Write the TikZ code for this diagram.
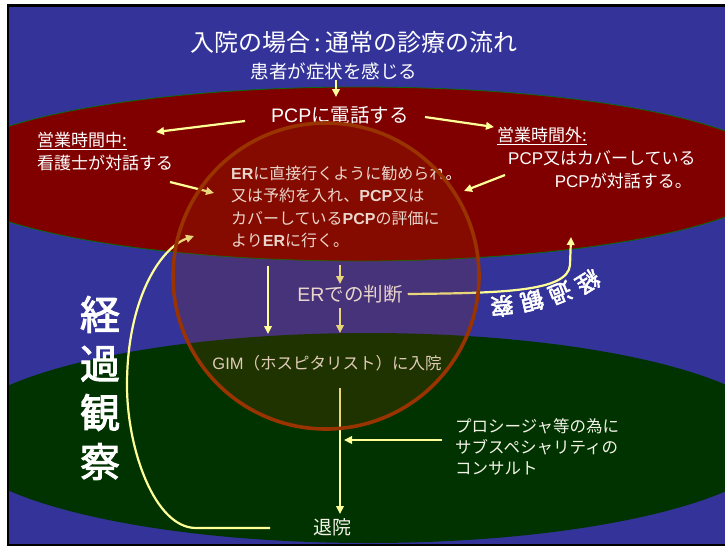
\documentclass[tikz,border=0pt]{standalone}
\usepackage{fontspec}
\setmainfont{Noto Sans CJK JP}
\newfontfamily\lat{Liberation Sans}
\newfontfamily\jpbf[AutoFakeBold=2.5]{Noto Sans CJK JP}
\usetikzlibrary{arrows.meta}
\definecolor{bgblue}{HTML}{333399}
\definecolor{ellred}{HTML}{800000}
\definecolor{ellgreen}{HTML}{003300}
\definecolor{edgegreen}{HTML}{0B6B0B}
\definecolor{brown}{HTML}{993300}
\definecolor{ayellow}{HTML}{FFFF99}
\definecolor{txtw}{HTML}{FFFFFF}
\definecolor{txtc}{HTML}{F2F2E6}
\tikzset{
  txt/.style={text=txtw, inner sep=0pt, font=\fontsize{17}{20}\selectfont},
  lefttxt/.style={txt, anchor=west, align=left},
  arr/.style={draw=ayellow, line width=2.2pt, -{Triangle[length=8pt,width=7.5pt]}},
  curvetxt/.style={text=white, inner sep=0pt, font=\jpbf\bfseries\fontsize{23}{23}\selectfont}
}
\begin{document}
\begin{tikzpicture}[x=1pt,y=-1pt]
\useasboundingbox (0,0) rectangle (725,547);
\fill[white] (0,0) rectangle (725,547);
\fill[black] (7,4) rectangle (727,546);
\fill[bgblue] (9,7) rectangle (727,544);
\begin{scope}
  \clip (9,7) rectangle (725,544);
  \filldraw[fill=ellred, draw=edgegreen, line width=0.8pt] (360,174) ellipse [x radius=420, y radius=87];
  \fill[ellgreen] (368,438) ellipse [x radius=415, y radius=105];
\end{scope}

% texts
\node[txt, font=\fontsize{24}{26}\selectfont] (title) at (354,42) {入院の場合\,:\,通常の診療の流れ};
\node[txt, font=\fontsize{18.5}{20}\selectfont] (patient) at (334,71) {患者が症状を感じる};
\node[txt, font=\fontsize{19.5}{22}\selectfont] (pcp) at (340,115) {{\lat PCP}に電話する};
\node[lefttxt] (inhours) at (37,141) {\underline{営業時間中:}};
\node[lefttxt] (nurse) at (37,163) {看護士が対話する};
\node[lefttxt] (outhours) at (497,136) {\underline{営業時間外:}};
\node[lefttxt] (pcpcov1) at (508,158) {{\lat PCP}又はカバーしている};
\node[txt, anchor=east] (pcpcov2) at (692,181) {{\lat PCP}が対話する。};

\node[lefttxt, font=\fontsize{16}{22.2}\selectfont, anchor=north west] (advice) at (231,166) {{\lat\bfseries ER}に直接行くように勧められ。\\又は予約を入れ、{\lat\bfseries PCP}又は\\カバーしている{\lat\bfseries PCP}の評価に\\より{\lat\bfseries ER}に行く。};
\node[txt, font=\fontsize{19.5}{22}\selectfont] (erjudge) at (350,294) {{\lat ER}での判断};
\node[txt, text=txtc, font=\fontsize{16.5}{20}\selectfont] (gim) at (327,363) {{\lat GIM}（ホスピタリスト）に入院};
\node[txt, text=txtc, font=\fontsize{19}{22}\selectfont] (discharge) at (332,527) {退院};
\node[lefttxt, text=txtc, font=\fontsize{16.5}{21.2}\selectfont, anchor=north west] (consult) at (455,418) {プロシージャ等の為に\\サブスペシャリティの\\コンサルト};

\node[txt, font=\jpbf\bfseries\fontsize{40}{49}\selectfont, align=center] (watch) at (100,388) {経\\過\\観\\察};

% curved text
\node[curvetxt, rotate=212] (w1) at (588,282) {経};
\node[curvetxt, rotate=202] (w2) at (560,293) {過};
\node[curvetxt, rotate=193] (w3) at (532,301) {観};
\node[curvetxt, rotate=185] (w4) at (502,306) {察};

% coordinates
\coordinate (a1s) at (336,80);  \coordinate (a1e) at (336,97);
\coordinate (a2s) at (245,121); \coordinate (a2e) at (156,132);
\coordinate (a3s) at (425,117); \coordinate (a3e) at (494,127);
\coordinate (a4s) at (170,182); \coordinate (a4e) at (214,193);
\coordinate (a5s) at (505,175); \coordinate (a5e) at (464,191);
\coordinate (a6s) at (340,265); \coordinate (a6e) at (340,284);
\coordinate (a7s) at (340,308); \coordinate (a7e) at (340,333);
\coordinate (a9s) at (340,388); \coordinate (a9e) at (340,514);
\coordinate (a10s) at (442,440); \coordinate (a10e) at (344,440);
\coordinate (a11s) at (270,528); \coordinate (a11e) at (194,236);
\coordinate (a12e) at (571,237);

\draw[arr] (a1s) -- (a1e);
\draw[arr] (a2s) -- (a2e);
\draw[arr] (a3s) -- (a3e);
\draw[arr] (a4s) -- (a4e);
\draw[arr] (a5s) -- (a5e);
\draw[arr] (a6s) -- (a6e);
\draw[arr] (a7s) -- (a7e);
\draw[arr] (a9s) -- (a9e);
\draw[arr] (a10s) -- (a10e);
\draw[arr] (a11s) -- (196,528) .. controls (155,528) and (127,450) .. (127,385)
   .. controls (127,300) and (160,248) .. (a11e);
\draw[arr] (erjudge.east) ++(5,0) .. controls (500,293) and (568,292) .. (570,265) -- (a12e);

% circle
\filldraw[fill=brown, fill opacity=0.2, draw=brown, line width=3.6pt] (326,276) circle [radius=153];

% direct arrow above circle
\coordinate (a8s) at (268,266); \coordinate (a8e) at (268,334);
\draw[arr] (a8s) -- (a8e);
\end{tikzpicture}
\end{document}
